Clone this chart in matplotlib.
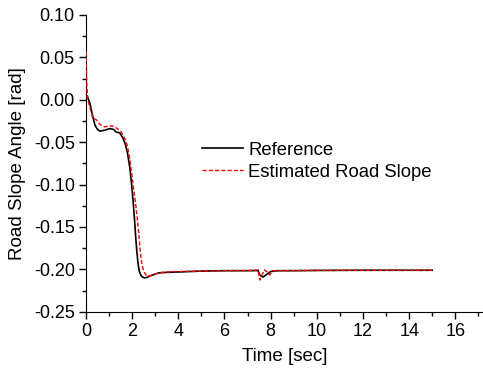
import matplotlib
matplotlib.use("Agg")
import matplotlib.pyplot as plt
from matplotlib.ticker import MultipleLocator, FormatStrFormatter

plt.rcParams['font.family'] = ['Liberation Sans', 'DejaVu Sans']
plt.rcParams['axes.unicode_minus'] = False

# values
ref_time = [0.0, 0.06, 0.17, 0.28, 0.39, 0.5, 0.6, 0.8, 1.03, 1.2, 1.3, 1.46, 1.6,
            1.7, 1.8, 1.9, 1.97, 2.05, 2.1, 2.15, 2.2, 2.26, 2.31, 2.38, 2.45, 2.53,
            2.64, 2.74, 2.95, 3.17, 3.5, 4.0,
            5.0, 6.0, 7.0, 7.45, 7.53, 7.67, 7.8, 8.0, 8.3, 9.0, 10.0, 12.0, 14.0, 15.0]
ref_slope = [0.003, 0.004, -0.004, -0.018, -0.030, -0.035, -0.037, -0.036, -0.034, -0.035,
             -0.038, -0.039, -0.045, -0.052, -0.063, -0.080, -0.098, -0.122, -0.140, -0.160,
             -0.178, -0.194, -0.202, -0.207, -0.209, -0.210, -0.2095, -0.208, -0.206, -0.204,
             -0.2035, -0.203, -0.202, -0.2015, -0.2015, -0.2013, -0.2066, -0.209, -0.2065,
             -0.2025, -0.2015, -0.2015, -0.2012, -0.201, -0.201, -0.201]

est_time = [0.01, 0.02, 0.04, 0.07, 0.1, 0.2, 0.3, 0.47, 0.6, 0.8, 1.0, 1.16, 1.3, 1.46,
            1.55, 1.7, 1.8, 1.9, 2.0, 2.1, 2.17, 2.23, 2.3, 2.36, 2.43, 2.49, 2.58, 2.67,
            2.87, 3.17, 3.5, 4.0,
            5.0, 6.0, 7.0, 7.46, 7.53, 7.6, 7.74, 7.85, 7.96, 8.1, 8.5, 10.0, 12.0, 14.0, 15.0]
est_slope = [0.057, 0.035, 0.015, 0.004, -0.002, -0.012, -0.0215, -0.024, -0.029, -0.032,
             -0.031, -0.031, -0.033, -0.036, -0.039, -0.047, -0.055, -0.070, -0.091, -0.112,
             -0.127, -0.142, -0.162, -0.181, -0.195, -0.201, -0.206, -0.208, -0.207, -0.204,
             -0.203, -0.2025, -0.202, -0.2015, -0.2013, -0.2007, -0.2125, -0.208, -0.2005,
             -0.203, -0.2066, -0.2015, -0.2015, -0.2012, -0.201, -0.201, -0.201]

fig = plt.figure(figsize=(4.83, 3.73), dpi=100)
ax = fig.add_axes([0.178, 0.164, 0.822, 0.796])

ax.plot(ref_time, ref_slope, color='black', lw=1.2, label='Reference', zorder=3)
ax.plot(est_time, est_slope, color='red', lw=1.0, ls=(0, (3, 1.5)),
        label='Estimated Road Slope', zorder=3)

ax.set_xlim(0, 17.2)
ax.set_ylim(-0.25, 0.10)
ax.xaxis.set_major_locator(MultipleLocator(2))
ax.xaxis.set_minor_locator(MultipleLocator(1))
ax.yaxis.set_major_locator(MultipleLocator(0.05))
ax.yaxis.set_minor_locator(MultipleLocator(0.025))
ax.yaxis.set_major_formatter(FormatStrFormatter('%.2f'))
ax.tick_params(which='major', direction='out', length=5, width=1, labelsize=13, pad=3)
ax.tick_params(which='minor', direction='out', length=3, width=1)

ax.spines['top'].set_visible(False)
ax.spines['right'].set_visible(False)

ax.set_xlabel('Time [sec]', fontsize=13.5, labelpad=6)
ax.set_ylabel('Road Slope Angle [rad]', fontsize=13.5, labelpad=6)

ax.legend(loc='upper left', bbox_to_anchor=(0.292, 0.573), frameon=False, fontsize=13.3,
          borderpad=0, borderaxespad=0, handlelength=2.2, handletextpad=0.3,
          labelspacing=0.28)

plt.savefig('out.png', dpi=100)
